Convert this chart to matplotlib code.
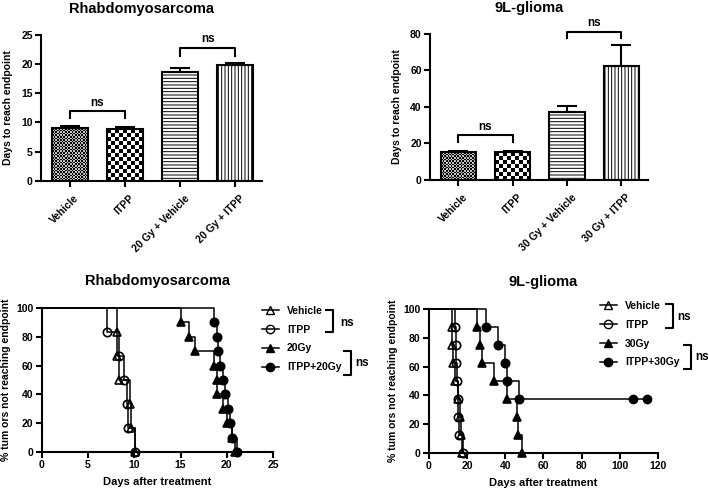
import numpy as np
import matplotlib
matplotlib.use("Agg")
import matplotlib.pyplot as plt
from matplotlib.lines import Line2D
from matplotlib.transforms import ScaledTranslation

plt.rcParams['font.family'] = ['Liberation Sans', 'DejaVu Sans']
plt.rcParams['font.weight'] = 'bold'
plt.rcParams['axes.labelweight'] = 'bold'
plt.rcParams['hatch.linewidth'] = 0.7

# ---- bar charts: days to reach endpoint (mean, upper SEM) ----
rms_groups = ['Vehicle', 'ITPP', '20 Gy + Vehicle', '20 Gy + ITPP']
rms_days = [9.0, 8.9, 18.7, 19.9]
rms_sem = [0.3, 0.3, 0.6, 0.3]

gl_groups = ['Vehicle', 'ITPP', '30 Gy + Vehicle', '30 Gy + ITPP']
gl_days = [15.0, 15.3, 37.2, 62.5]
gl_sem = [0.9, 0.7, 3.0, 11.5]

# ---- Kaplan-Meier curves (event times, % remaining after each event) ----
rms_veh_t = [8.1, 8.1, 8.4, 9.5, 9.6, 10.1]
rms_itpp_t = [7.0, 8.3, 8.9, 9.2, 9.3, 10.1]
rms_surv6 = [83.3, 66.7, 50.0, 33.3, 16.7, 0.0]
rms_20_t = [15.1, 15.9, 16.6, 18.6, 18.9, 19.0, 19.6, 20.0, 20.6, 20.9]
rms_itpp20_t = [18.6, 19.0, 19.1, 19.3, 19.6, 19.8, 20.1, 20.3, 20.6, 21.1]
rms_surv10 = [90, 80, 70, 60, 50, 40, 30, 20, 10, 0]
rms_labels = ['Vehicle', 'ITPP', '20Gy', 'ITPP+20Gy']

gl_veh_t = [12.0, 12.0, 12.8, 13.4, 15.0, 16.5, 17.0, 17.3]
gl_itpp_t = [13.8, 14.0, 14.3, 14.5, 15.0, 15.3, 16.0, 18.0]
gl_surv8 = [87.5, 75.0, 62.5, 50.0, 37.5, 25.0, 12.5, 0.0]
gl_30_t = [25.0, 27.0, 28.0, 34.0, 41.0, 46.0, 46.5, 48.5]
gl_itpp30_t = [30.0, 36.0, 40.0, 41.0, 47.0]
gl_itpp30_s = [87.5, 75.0, 62.5, 50.0, 37.5]
gl_itpp30_cens = [107.0, 114.0]
gl_labels = ['Vehicle', 'ITPP', '30Gy', 'ITPP+30Gy']

FS = 7.5
MS = 6
fig = plt.figure(figsize=(7.09, 4.90), dpi=100)


def style_axes(ax):
    for s in ['top', 'right']:
        ax.spines[s].set_visible(False)
    for s in ['left', 'bottom']:
        ax.spines[s].set_linewidth(1.5)
    ax.tick_params(width=1.5, length=4, labelsize=FS, pad=2)


def checker_fill(ax, bar, cell_px, light=1.0):
    # checkerboard pattern clipped to a bar
    x0, w, h = bar.get_x(), bar.get_width(), bar.get_height()
    p0 = ax.transData.transform((x0, 0))
    p1 = ax.transData.transform((x0 + w, h))
    nx = max(1, int(round((p1[0] - p0[0]) / cell_px)))
    ny = max(1, int(round((p1[1] - p0[1]) / cell_px)))
    board = (np.add.outer(np.arange(ny), np.arange(nx)) % 2) * light
    im = ax.imshow(board, extent=(x0, x0 + w, 0, h), cmap='gray', vmin=0, vmax=1,
                   interpolation='nearest', aspect='auto', zorder=1)
    im.set_clip_path(bar)


def bar_panel(rect, groups, days, sem, ymax, ystep, title, brackets):
    ax = fig.add_axes(rect)
    x = np.arange(len(groups))
    ax.set_xlim(-0.52, 3.49)
    ax.set_ylim(0, ymax)
    ax.set_yticks(np.arange(0, ymax + 1, ystep))
    bars = ax.bar(x, days, width=0.65, color='none', edgecolor='black', linewidth=1.5, zorder=2)
    bars[2].set_hatch('-----')
    bars[3].set_hatch('|||||')
    checker_fill(ax, bars[0], 1.6, 0.75)
    checker_fill(ax, bars[1], 4.0)
    ax.errorbar(x, days, yerr=[np.zeros(len(sem)), sem], fmt='none', ecolor='black',
                elinewidth=1.5, capsize=7, capthick=1.5, zorder=3, clip_on=False)
    style_axes(ax)
    ax.set_xticks(x)
    ax.set_xticklabels(groups, rotation=45, ha='right', va='top', rotation_mode='anchor',
                       fontsize=FS)
    shift = ScaledTranslation(3 / 72, -3 / 72, fig.dpi_scale_trans)
    for lab in ax.get_xticklabels():
        lab.set_transform(lab.get_transform() + shift)
    ax.set_ylabel('Days to reach endpoint', fontsize=FS, labelpad=6)
    ax.text(0.455, 1.18, title, transform=ax.transAxes, ha='center', va='center', fontsize=10.5)
    for i, j, top, leg, ty in brackets:
        ax.plot([i, i, j, j], [leg, top, top, leg], color='black', lw=1.5, clip_on=False)
        ax.text((i + j) / 2, ty, 'ns', ha='center', va='center', fontsize=8.5)
    return ax


bar_panel([0.058, 0.631, 0.312, 0.298], rms_groups, rms_days, rms_sem, 25, 5,
          'Rhabdomyosarcoma', [(0, 1, 12.0, 10.8, 13.4), (2, 3, 22.7, 21.3, 24.3)])
bar_panel([0.6065, 0.633, 0.3075, 0.298], gl_groups, gl_days, gl_sem, 80, 20,
          '9L-glioma', [(0, 1, 24.7, 20.5, 29.2), (2, 3, 81.0, 77.5, 86.0)])


def km(ax, t, s, marker, filled, cens=()):
    xs = np.r_[0, t, list(cens)[-1:]] if len(cens) else np.r_[0, t]
    ys = np.r_[100, s, s[-1:]] if len(cens) else np.r_[100, s]
    ax.step(xs, ys, where='post', color='black', lw=1.1, clip_on=False, zorder=3)
    mfc = 'black' if filled else 'none'
    ax.plot(t, s, ls='none', marker=marker, ms=MS, mfc=mfc, mec='black', mew=1.2,
            clip_on=False, zorder=4)
    if len(cens):
        ax.plot(cens, [s[-1]] * len(cens), ls='none', marker=marker, ms=MS, mfc=mfc,
                mec='black', clip_on=False, zorder=4)


def km_panel(rect, xmax, xstep, title, curves, labels, leg_xy, br):
    ax = fig.add_axes(rect)
    ax.set_xlim(0, xmax)
    ax.set_ylim(0, 100)
    ax.set_xticks(np.arange(0, xmax + 1, xstep))
    ax.set_yticks(np.arange(0, 101, 20))
    style_axes(ax)
    for c in curves:
        km(ax, *c)
    ax.set_xlabel('Days after treatment', fontsize=FS + 0.5, labelpad=5)
    ax.set_ylabel('% tum ors not reaching endpoint', fontsize=FS, labelpad=4)
    ax.text(0.5, 1.19, title, transform=ax.transAxes, ha='center', va='center', fontsize=10.5)
    styles = [('^', 'none'), ('o', 'none'), ('^', 'black'), ('o', 'black')]
    handles = [Line2D([], [], color='black', lw=1.1, marker=m, mfc=f, mec='black', ms=MS)
               for m, f in styles]
    ax.legend(handles, labels, loc='upper left', bbox_to_anchor=leg_xy, frameon=False,
              fontsize=FS, handlelength=1.6, handletextpad=0.8, labelspacing=0.85,
              borderpad=0, borderaxespad=0)
    arm = 0.03
    for vx, y0, y1, nx, ny in br:
        ax.plot([vx - arm, vx, vx, vx - arm], [y0, y0, y1, y1], color='black', lw=1.5,
                transform=ax.transAxes, clip_on=False)
        ax.text(nx, ny, 'ns', transform=ax.transAxes, ha='left', va='center', fontsize=8.5)
    return ax


km_panel([0.059, 0.0776, 0.326, 0.294], 25, 5, 'Rhabdomyosarcoma',
         [(rms_veh_t, rms_surv6, '^', False), (rms_itpp_t, rms_surv6, 'o', False),
          (rms_20_t, rms_surv10, '^', True), (rms_itpp20_t, rms_surv10, 'o', True)],
         rms_labels, (0.952, 1.015),
         [(1.26, 0.986, 0.833, 1.29, 0.896), (1.338, 0.701, 0.535, 1.355, 0.618)])
km_panel([0.605, 0.0755, 0.323, 0.294], 120, 20, '9L-glioma',
         [(gl_veh_t, gl_surv8, '^', False), (gl_itpp_t, gl_surv8, 'o', False),
          (gl_30_t, gl_surv8, '^', True),
          (gl_itpp30_t, gl_itpp30_s, 'o', True, gl_itpp30_cens)],
         gl_labels, (0.747, 1.056),
         [(1.066, 1.035, 0.868, 1.083, 0.944), (1.144, 0.75, 0.583, 1.162, 0.667)])

fig.savefig('out.png', dpi=100)
